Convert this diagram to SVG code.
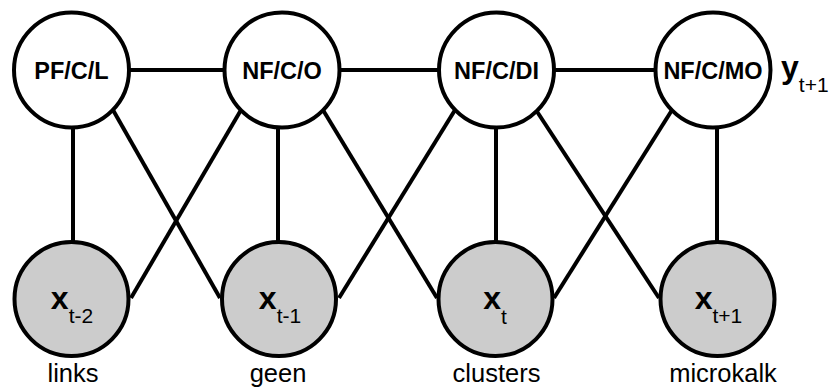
<svg xmlns="http://www.w3.org/2000/svg" width="831" height="387" viewBox="0 0 831 387">
  <style>
    .edge { stroke: #000; stroke-width: 4; fill: none; }
    .hidden { fill: #fff; stroke: #000; stroke-width: 4; }
    .observed { fill: #cccccc; stroke: #000; stroke-width: 4; }
    .state { font-family: "Liberation Sans", Arial, sans-serif; font-weight: bold; font-size: 23.5px; text-anchor: middle; fill: #000; }
    .var { font-family: "Liberation Sans", Arial, sans-serif; font-weight: bold; font-size: 32px; fill: #000; }
    .sub { font-family: "Liberation Sans", Arial, sans-serif; font-weight: normal; font-size: 21px; }
    .caption { font-family: "Liberation Sans", Arial, sans-serif; font-size: 25.5px; text-anchor: middle; fill: #000; }
  </style>
  <rect width="831" height="387" fill="#fff"/>

  <!-- connectors -->
  <g id="edges" class="edge">
    <!-- chain between hidden states -->
    <line x1="130" y1="70" x2="224" y2="70"/>
    <line x1="340" y1="70" x2="439" y2="70"/>
    <line x1="555" y1="70" x2="656" y2="70"/>
    <!-- vertical emissions -->
    <line x1="73" y1="126" x2="73" y2="243"/>
    <line x1="278" y1="126" x2="278" y2="243"/>
    <line x1="496" y1="126" x2="496" y2="243"/>
    <line x1="717" y1="126" x2="717" y2="243"/>
    <!-- cross links -->
    <line x1="113" y1="110" x2="220" y2="298"/>
    <line x1="241" y1="110" x2="131" y2="298"/>
    <line x1="323" y1="110" x2="437" y2="298"/>
    <line x1="455" y1="110" x2="339" y2="298"/>
    <line x1="536" y1="110" x2="659" y2="298"/>
    <line x1="672" y1="110" x2="554" y2="298"/>
  </g>

  <!-- hidden state nodes -->
  <g id="node-pfcl">
    <circle class="hidden" cx="71.5" cy="70" r="57.5"/>
    <text class="state" x="71.5" y="79">PF/C/L</text>
  </g>
  <g id="node-nfco">
    <circle class="hidden" cx="282" cy="70" r="57.5"/>
    <text class="state" x="282" y="79">NF/C/O</text>
  </g>
  <g id="node-nfcdi">
    <circle class="hidden" cx="496.5" cy="70" r="57.5"/>
    <text class="state" x="496.5" y="79">NF/C/DI</text>
  </g>
  <g id="node-nfcmo">
    <circle class="hidden" cx="713" cy="70" r="57.5"/>
    <text class="state" x="713" y="79">NF/C/MO</text>
  </g>
  <g id="label-y">
    <text class="var" x="781" y="78">y<tspan class="sub" dy="14">t+1</tspan></text>
  </g>

  <!-- observed nodes -->
  <g id="node-xt-2">
    <circle class="observed" cx="71.5" cy="299" r="57"/>
    <text class="var" x="72" y="309" text-anchor="middle">x<tspan class="sub" dy="14">t-2</tspan></text>
    <text class="caption" x="73" y="382">links</text>
  </g>
  <g id="node-xt-1">
    <circle class="observed" cx="279" cy="299" r="57"/>
    <text class="var" x="280" y="309" text-anchor="middle">x<tspan class="sub" dy="14">t-1</tspan></text>
    <text class="caption" x="278" y="382">geen</text>
  </g>
  <g id="node-xt">
    <circle class="observed" cx="495.5" cy="299" r="57"/>
    <text class="var" x="495" y="309" text-anchor="middle">x<tspan class="sub" dy="15">t</tspan></text>
    <text class="caption" x="496.5" y="382">clusters</text>
  </g>
  <g id="node-xt+1">
    <circle class="observed" cx="717.5" cy="299" r="57"/>
    <text class="var" x="718.5" y="309" text-anchor="middle">x<tspan class="sub" dy="14">t+1</tspan></text>
    <text class="caption" x="723" y="382">microkalk</text>
  </g>
</svg>
